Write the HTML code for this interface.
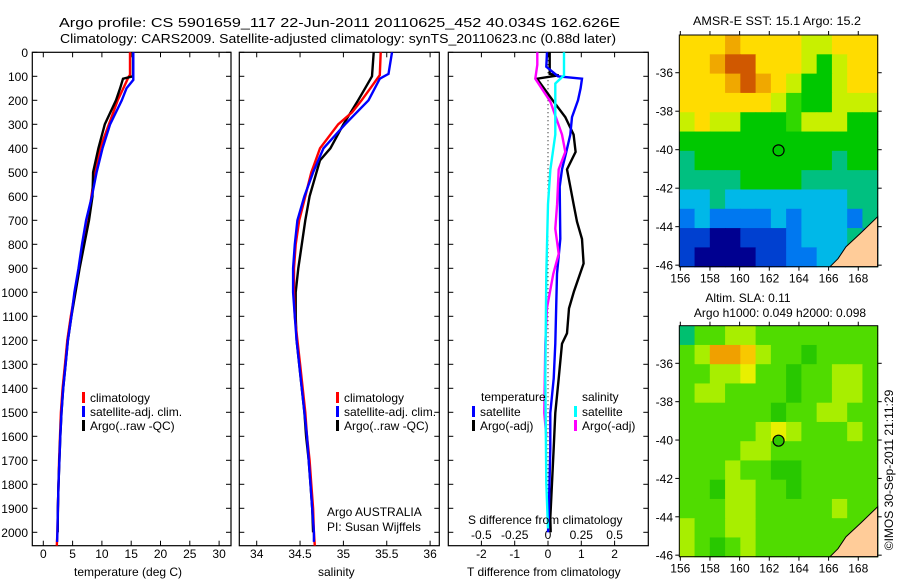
<!DOCTYPE html>
<html><head><meta charset="utf-8">
<style>
body{margin:0;background:#fff;}
svg{display:block;font-family:"Liberation Sans",sans-serif;}
text{font-size:12px;fill:#000;}
</style></head>
<body>
<svg id="chart" width="900" height="580" viewBox="0 0 900 580" xmlns="http://www.w3.org/2000/svg">
<text x="59" y="27" style="font-size:13px" textLength="561" lengthAdjust="spacingAndGlyphs">Argo profile: CS 5901659_117 22-Jun-2011 20110625_452 40.034S 162.626E</text>
<text x="60" y="43" style="font-size:13px" textLength="556" lengthAdjust="spacingAndGlyphs">Climatology: CARS2009. Satellite-adjusted climatology: synTS_20110623.nc (0.88d later)</text>
<g id="plots"></g>
<text x="481" y="401">temperature</text>
<text x="582" y="401">salinity</text>
<text x="468" y="524">S difference from climatology</text>
<text x="467" y="576">T difference from climatology</text>
<text x="74" y="576">temperature (deg C)</text>
<text x="318" y="576">salinity</text>
<text x="327" y="516">Argo AUSTRALIA</text>
<text x="327" y="531">PI: Susan Wijffels</text>
<text x="693" y="25" textLength="168" lengthAdjust="spacingAndGlyphs">AMSR-E SST: 15.1 Argo: 15.2</text>
<text x="748" y="302" text-anchor="middle">Altim. SLA: 0.11</text>
<text x="780" y="317" text-anchor="middle">Argo h1000: 0.049 h2000: 0.098</text>
<text transform="translate(893,470) rotate(-90)" text-anchor="middle">©IMOS 30-Sep-2011 21:11:29</text>
</svg>
<script>
// ---- data ----
const depthTicks = [0,100,200,300,400,500,600,700,800,900,1000,1100,1200,1300,1400,1500,1600,1700,1800,1900,2000];
const tempTicks = [0,5,10,15,20,25,30];
const salTicks = [34,34.5,35,35.5,36];
const tdiffTicks = [-2,-1,0,1,2];
const sdiffTicks = [-0.5,-0.25,0,0.25,0.5];
const sdiffTickLabels = ["-0.5","-0.25","0","0.25","0.5"];

const tClimDepth = [0,95,100,200,300,400,500,600,700,800,900,1000,1100,1200,1300,1400,1500,1600,1700,1800,1900,2000,2056];
const tClim = [14.8,14.8,14.6,12.7,11.2,9.7,8.8,8.2,7.7,6.8,6.1,5.4,4.7,4.1,3.7,3.3,3.0,2.85,2.7,2.6,2.5,2.4,2.3];
const tSatDepth = [0,115,150,200,300,400,500,600,700,800,900,1000,1100,1200,1300,1400,1500,1600,1700,1800,1900,2000,2040];
const tSat = [15.35,15.35,14.2,13.4,11.4,10.1,9.1,8.3,7.3,6.6,6.0,5.3,4.8,4.2,3.8,3.4,3.1,2.9,2.75,2.6,2.5,2.4,2.35];
const tArgoDepth = [0,100,110,150,200,300,400,500,600,700,800,900,1000,1100,1200,1300,1400,1500,1600,1700,1800,1900,2000];
const tArgo = [15.3,15.3,13.6,13.1,12.4,10.5,9.4,8.5,8.4,7.8,7.0,6.2,5.5,4.8,4.2,3.8,3.4,3.1,2.9,2.75,2.6,2.5,2.45];

const sClimDepth = [0,95,150,200,250,300,400,480,500,600,700,800,900,1000,1100,1200,1300,1400,1500,1600,1700,1800,1900,2000,2056];
const sClim = [35.43,35.42,35.31,35.21,35.10,34.94,34.73,34.65,34.63,34.56,34.49,34.45,34.43,34.43,34.44,34.47,34.50,34.53,34.56,34.58,34.61,34.63,34.65,34.66,34.67];
const sSatDepth = [0,90,110,200,300,400,500,600,700,800,900,1000,1100,1200,1300,1400,1500,1600,1700,1800,1900,2000,2040];
const sSat = [35.56,35.52,35.42,35.29,35.02,34.77,34.65,34.55,34.47,34.44,34.42,34.42,34.44,34.46,34.49,34.52,34.55,34.58,34.60,34.62,34.64,34.66,34.66];
const sArgoDepth = [0,100,150,200,300,400,450,500,600,700,800,900,1000,1100,1200,1300,1400,1500,1600,1700,1800,1900,2000];
const sArgo = [35.35,35.33,35.25,35.17,35.0,34.85,34.73,34.69,34.61,34.56,34.52,34.48,34.45,34.45,34.46,34.49,34.52,34.55,34.57,34.60,34.62,34.64,34.65];

const dTSatDepth = [0,60,100,110,150,200,270,343,415,488,560,778,923,1214,1359,1503,1649,1940,2000];
const dTSat = [-0.03,-0.05,0.3,1.02,0.98,0.9,0.72,0.67,0.55,0.42,0.35,0.37,0.27,0.22,0.17,0.07,0.07,0.02,0.0];
const dTArgoDepth = [0,90,96,110,206,270,343,415,488,560,633,706,778,880,996,1067,1171,1214,1359,1503,1649,1795,1940,2000];
const dTArgo = [0.05,0.05,0.32,-0.33,0.17,0.52,0.77,0.83,0.57,0.67,0.77,0.87,1.02,1.07,0.78,0.63,0.57,0.42,0.32,0.22,0.17,0.12,0.07,0.08];
const dSSatDepth = [0,96,130,343,488,633,923,1359,1795,1984];
const dSSat = [0.12,0.12,0.055,0.055,0.018,0.0,-0.013,-0.02,-0.013,0.0];
const dSArgoDepth = [0,52,110,206,343,415,488,633,735,840,923,1067,1214,1503,1600];
const dSArgo = [-0.08,-0.08,-0.095,0.018,0.105,0.13,0.08,0.068,0.055,0.08,0.04,-0.008,-0.02,-0.028,-0.013];

// ---- geometry ----
const Y0=52.3, YPX=0.24, YBOT=545.7;
const yD = d => Y0 + d*YPX;
const xT = v => 43.3 + v*5.86;
const xS = v => 256.7 + (v-34)*86.7;
const xDT = v => 548 + v*33.3;
const xDS = v => 548 + v*133.2;

const NS="http://www.w3.org/2000/svg";
const root=document.getElementById('plots');
function mk(tag,attrs,parent){const e=document.createElementNS(NS,tag);for(const k in attrs)e.setAttribute(k,attrs[k]);(parent||root).appendChild(e);return e;}
function txt(x,y,s,anchor,parent){const e=mk('text',{x:x,y:y,'text-anchor':anchor||'start'},parent);e.textContent=s;return e;}

function panel(name,x0,x1,xs,ticks,labels,showDepth){
  const g=mk('g',{});
  
  
  const r=mk('rect',{x:x0,y:Y0,width:x1-x0,height:YBOT-Y0,fill:'none',stroke:'#000','stroke-width':1.2},g);
  
  
  depthTicks.forEach(d=>{
    mk('line',{x1:x0,x2:x0+5,y1:yD(d),y2:yD(d),stroke:'#000'},g);
    mk('line',{x1:x1-5,x2:x1,y1:yD(d),y2:yD(d),stroke:'#000'},g);
    if(showDepth){const t=txt(28,yD(d)+4.5,String(d),'end',g);
      
      }
  });
  ticks.forEach((v,i)=>{
    const x=xs(v);
    mk('line',{x1:x,x2:x,y1:Y0,y2:Y0+5,stroke:'#000'},g);
    mk('line',{x1:x,x2:x,y1:YBOT-5,y2:YBOT,stroke:'#000'},g);
    const t=txt(x,558,labels?labels[i]:String(v),'middle',g);
    
    
  });
  return g;
}
function line(g,name,xs,vals,depths,color){
  const pts=vals.map((v,i)=>xs(v).toFixed(1)+','+yD(depths[i]).toFixed(1)).join(' ');
  const p=mk('polyline',{points:pts,fill:'none',stroke:color,'stroke-width':2.4,'stroke-linejoin':'miter'},g);
  
  
}
function legend(g,x,y,color,label){
  const r=mk('rect',{x:x,y:y-10,width:3,height:11,fill:color},g);
  
  
  const t=txt(x+8,y,label,'start',g);
  
  
}

const p1=panel('temperature-panel',32.3,231,xT,tempTicks,null,true);
line(p1,'temp-climatology-line',xT,tClim,tClimDepth,'#ff0000');
line(p1,'temp-argo-line',xT,tArgo,tArgoDepth,'#000000');
line(p1,'temp-satellite-line',xT,tSat,tSatDepth,'#0000ff');
legend(p1,82,402,'#ff0000','climatology');
legend(p1,82,416,'#0000ff','satellite-adj. clim.');
legend(p1,82,430,'#000000','Argo(..raw -QC)');

const p2=panel('salinity-panel',239.3,439.3,xS,salTicks,null,false);
line(p2,'sal-argo-line',xS,sArgo,sArgoDepth,'#000000');
line(p2,'sal-climatology-line',xS,sClim,sClimDepth,'#ff0000');
line(p2,'sal-satellite-line',xS,sSat,sSatDepth,'#0000ff');
legend(p2,336,402,'#ff0000','climatology');
legend(p2,336,416,'#0000ff','satellite-adj. clim.');
legend(p2,336,430,'#000000','Argo(..raw -QC)');

const p3=panel('difference-panel',448.3,648.3,xDT,tdiffTicks,null,false);
sdiffTicks.forEach((v,i)=>{const t=txt(xDS(v),539,sdiffTickLabels[i],'middle',p3);
  
  });
const zl=mk('line',{x1:xDT(0),x2:xDT(0),y1:yD(0),y2:yD(2000),stroke:'#000','stroke-dasharray':'1,3'},p3);


line(p3,'t-diff-argo-line',xDT,dTArgo,dTArgoDepth,'#000000');
line(p3,'t-diff-satellite-line',xDT,dTSat,dTSatDepth,'#0000ff');
line(p3,'s-diff-argo-line',xDS,dSArgo,dSArgoDepth,'#ff00ff');
line(p3,'s-diff-satellite-line',xDS,dSSat,dSSatDepth,'#00ffff');
legend(p3,472,416,'#0000ff','satellite');
legend(p3,472,430,'#000000','Argo(-adj)');
legend(p3,574,416,'#00ffff','satellite');
legend(p3,574,430,'#ff00ff','Argo(-adj)');

// ---- maps ----
const pal={O:'#d05800',o:'#f0a800',Y:'#ffdc00',y:'#c8f000',G:'#00c800',g:'#30d800',T:'#00c080',C:'#00b8e8',B:'#0078f0',b:'#0040d0',N:'#000090',L:'#ffcc99',
  t:'#00c070',d:'#28c800',h:'#50dc00',k:'#a8ee00',K:'#e8f000',R:'#f0a000',P:'#f8c800'};
const sstRows=["YYYoYYYYyyYYY","YYoOOYYYyGyYY","YYYoOoYyGGyYY","YYYYYYygGGyyy","yYyyGGGgyyyGG","GGGGGGGGGGGGG","TGGGGGGGGGTGG","TTTTGGGGTTTTT","CCTCCCCCCCCTT","BCBBBBCBCCCBT","bbNNbbbBCCCTB","bNNNNbbBBCCTT"];
const slaRows=["thhkkhhhhhhhh","hkRRPkhhdhhhh","hhkkKhhdhhkkh","hkkhhhhdhhkkh","hhhhhhdhhkkhh","hhhhhkKkhhhkh","hhhhkkhhhhhhh","hhhkhhddhhhhh","hhdkkhhdhhhhh","hhhkkhhhhhkhh","khhkkhhhhhhhh","khdhkhhhhhhhh"];
function map(name,top,bottom,rows,cy,filled){
  const x0=679.3,x1=877.7,lonPx=14.83;
  const latPx=(bottom-top)/12.04;
  const g=mk('g',{});
  
  
  const cw=(x1-x0)/13, ch=(bottom-top)/12;
  rows.forEach((row,r)=>{for(let c=0;c<13;c++){
    mk('rect',{x:(x0+c*cw).toFixed(2),y:(top+r*ch).toFixed(2),width:(cw+0.6).toFixed(2),height:(ch+0.6).toFixed(2),fill:pal[row[c]]},g);
  }});
  const land=mk('polygon',{points:`830,${bottom} 838,${bottom-8} 846,${bottom-20} 860,${bottom-33} 877.7,${bottom-50} 877.7,${bottom}`,fill:'#ffcc99',stroke:'#000','stroke-width':1},g);
  
  
  const fr=mk('rect',{x:x0,y:top,width:x1-x0,height:bottom-top,fill:'none',stroke:'#000'},g);
  
  
  for(let lat=-36;lat>=-46;lat-=2){
    const y=top+(-34.04-lat)*latPx;
    mk('line',{x1:x0-4,x2:x0,y1:y,y2:y,stroke:'#000'},g);
    mk('line',{x1:x1,x2:x1+4,y1:y,y2:y,stroke:'#000'},g);
    const t=txt(673,y+4.5,String(lat),'end',g);
    
    
  }
  for(let lon=156;lon<=168;lon+=2){
    const x=680.3+(lon-156)*lonPx;
    mk('line',{x1:x,x2:x,y1:top-4,y2:top,stroke:'#000'},g);
    mk('line',{x1:x,x2:x,y1:bottom,y2:bottom+4,stroke:'#000'},g);
    const t=txt(x,bottom+16,String(lon),'middle',g);
    
    
  }
  const cx=680.3+6.626*lonPx, yy=top+(-34.04+40.034)*latPx;
  const m=mk('circle',{cx:cx,cy:yy,r:5.5,fill:filled?'#30c800':'none',stroke:'#000','stroke-width':1.2},g);
  
  
}
map('sst-map',35,266.7,sstRows,0,false);
map('sla-map',325.7,556.7,slaRows,0,true);
</script>
</body></html>
